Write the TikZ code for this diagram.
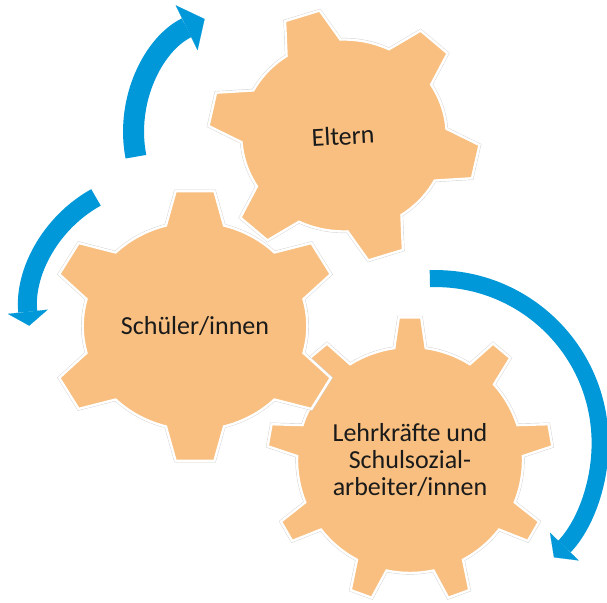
\documentclass[tikz,border=0pt]{standalone}
\usepackage{fontspec}
\setmainfont{Carlito}
\usetikzlibrary{arrows.meta}
\definecolor{peach}{HTML}{F8BF80}
\definecolor{flowblue}{HTML}{0098D8}
\definecolor{ink}{HTML}{1A1A1A}
\definecolor{rim}{HTML}{CFCFCF}
% #1 teeth, #2 first tooth angle, #3 root radius, #4 tip radius, #5 half base angle, #6 half tip angle
\newcommand{\gearpath}[6]{({#2-#5}:#3)
  \foreach \k in {1,...,#1}{
    -- ({#2+(\k-1)*360/#1-#6}:#4) -- ({#2+(\k-1)*360/#1+#6}:#4)
    -- ({#2+(\k-1)*360/#1+#5}:#3)
    arc[start angle={#2+(\k-1)*360/#1+#5}, end angle={#2+\k*360/#1-#5}, radius=#3]
  } -- cycle}
\tikzset{
  gear/.style={fill=peach, draw=white, line width=2.4pt, line join=miter},
  gearrim/.style={draw=rim, line width=3.2pt},
  label/.style={font=\fontsize{26}{27}\selectfont, text=ink, align=center, inner sep=0pt},
  turn/.style={draw=flowblue, line cap=butt}
}

\begin{document}
\begin{tikzpicture}[x=1pt,y=1pt]
\useasboundingbox (0,0) rectangle (607,602);
% gears, back to front
\begin{scope}[shift={(344,466.5)},xscale=1.07]
  \draw[gearrim] \gearpath{6}{-12}{96}{127}{16}{7.7};
  \filldraw[gear] \gearpath{6}{-12}{96}{127}{16}{7.7};
\end{scope}
\begin{scope}[shift={(410,142)}]
  \draw[gearrim] \gearpath{9}{10}{113}{143}{8}{4.5};
  \filldraw[gear] \gearpath{9}{10}{113}{143}{8}{4.5};
\end{scope}
\begin{scope}[shift={(195,276)},xscale=1.08]
  \draw[gearrim] \gearpath{6}{90}{104}{136}{15}{7.6};
  \filldraw[gear] \gearpath{6}{90}{104}{136}{15}{7.6};
\end{scope}
\node[label, rotate=3] (eltern) at (343,466) {Eltern};
\node[label] (schueler) at (195,276) {Schüler/innen};
\node[label] (lehrer) at (410,142) {Lehrkräfte und\\Schulsozial-\\arbeiter/innen};
% turning arrows
\coordinate (hubA) at (260,469.4);
\coordinate (hubB) at (159.5,290);
\coordinate (hubC) at (435.6,158.9);
\draw[turn, line width=21pt, -{Triangle[length=20pt,width=50pt,line width=0.1pt]}]
  ([shift={(191:126.4)}]hubA) arc[start angle=191, end angle=116, radius=126.4];
\draw[turn, line width=19pt, -{Triangle[length=14pt,width=40pt,line width=0.1pt]}]
  ([shift={(119:131)}]hubB) arc[start angle=119, end angle=186, radius=131];
\draw[turn, line width=17pt, -{Triangle[length=15pt,width=40pt,line width=0.1pt]}]
  ([shift={(92:164.5)}]hubC) arc[start angle=92, end angle=-44, radius=164.5];
\end{tikzpicture}
\end{document}
